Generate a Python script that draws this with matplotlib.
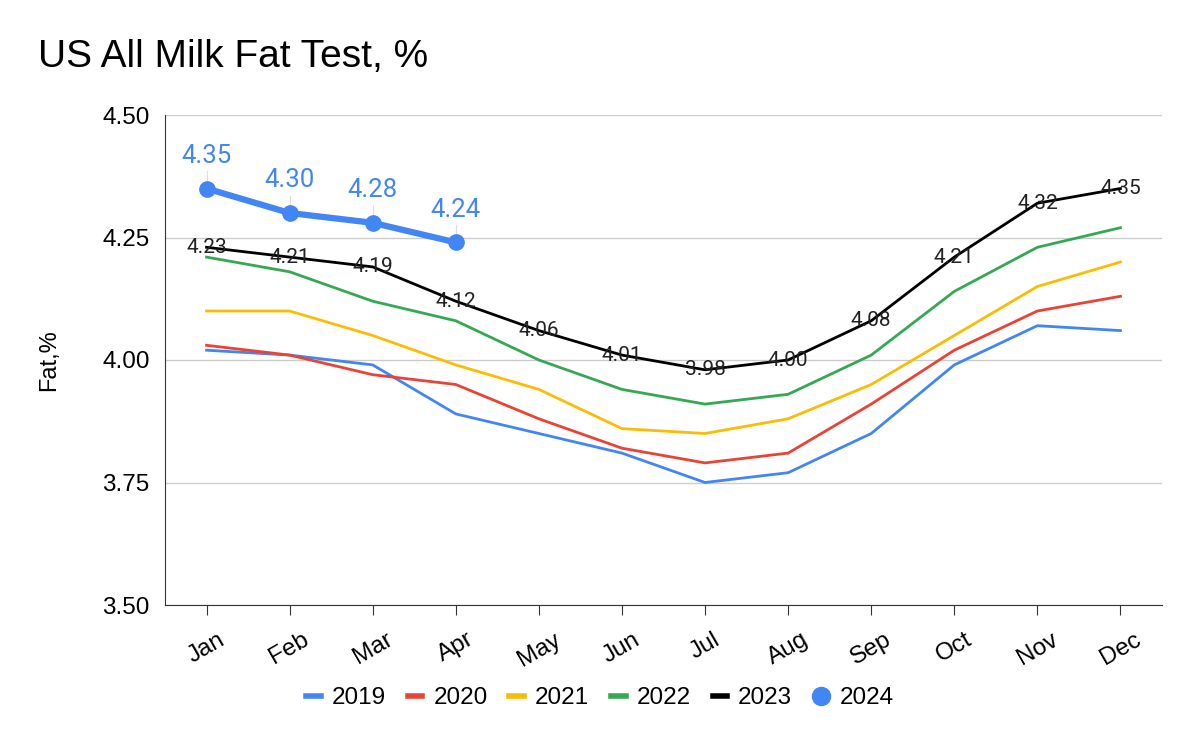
import matplotlib.pyplot as plt

months = ["Jan", "Feb", "Mar", "Apr", "May", "Jun",
          "Jul", "Aug", "Sep", "Oct", "Nov", "Dec"]

fat_2019 = [4.02, 4.01, 3.99, 3.89, 3.85, 3.81, 3.75, 3.77, 3.85, 3.99, 4.07, 4.06]
fat_2020 = [4.03, 4.01, 3.97, 3.95, 3.88, 3.82, 3.79, 3.81, 3.91, 4.02, 4.10, 4.13]
fat_2021 = [4.10, 4.10, 4.05, 3.99, 3.94, 3.86, 3.85, 3.88, 3.95, 4.05, 4.15, 4.20]
fat_2022 = [4.21, 4.18, 4.12, 4.08, 4.00, 3.94, 3.91, 3.93, 4.01, 4.14, 4.23, 4.27]
fat_2023 = [4.23, 4.21, 4.19, 4.12, 4.06, 4.01, 3.98, 4.00, 4.08, 4.21, 4.32, 4.35]
fat_2024 = [4.35, 4.30, 4.28, 4.24]

y_ticks = [3.50, 3.75, 4.00, 4.25, 4.50]

plt.rcParams['font.family'] = ['Liberation Sans', 'DejaVu Sans']

fig = plt.figure(figsize=(12, 7.51), dpi=100)
ax = fig.add_axes([165 / 1200, 1 - 605 / 751, 997 / 1200, 490 / 751])

x = list(range(len(months)))
ax.plot(x, fat_2019, color="#4285f4", lw=2, label="2019")
ax.plot(x, fat_2020, color="#ea4335", lw=2, label="2020")
ax.plot(x, fat_2021, color="#fbbc04", lw=2, label="2021")
ax.plot(x, fat_2022, color="#34a853", lw=2, label="2022")
ax.plot(x, fat_2023, color="black", lw=2, label="2023", zorder=3)
ax.plot(x[:len(fat_2024)], fat_2024, color="#4285f4", lw=4.5,
        marker="o", ms=11, label="2024", zorder=4)

for xi, v in zip(x, fat_2023):
    ax.text(xi, v, f"{v:.2f}", ha="center", va="center", fontsize=15,
            family=["Roboto", "DejaVu Sans"], color="#222222", zorder=5)

for xi, v in zip(x, fat_2024):
    ax.annotate(f"{v:.2f}", (xi, v), xytext=(0, 15), textcoords="offset points",
                ha="center", va="bottom", fontsize=18.5, color="#4285f4",
                family=["Roboto", "DejaVu Sans"], zorder=5)
    ax.plot([xi, xi], [v + 0.015, v + 0.035], color="#dddddd", lw=0.8, zorder=1)

ax.set_xlim(-0.5, 11.5)
ax.set_ylim(3.5, 4.5)
ax.set_yticks(y_ticks)
ax.set_yticklabels([f"{t:.2f}" for t in y_ticks], fontsize=17.5)
ax.set_xticks(x)
ax.set_xticklabels(months, fontsize=17.5, rotation=30, ha="center")
ax.tick_params(axis="y", length=0, pad=11)
ax.tick_params(axis="x", length=7, color="#333333", pad=10)
ax.grid(axis="y", color="#cccccc", lw=1)
ax.set_axisbelow(True)
for side in ["top", "right"]:
    ax.spines[side].set_visible(False)
ax.spines["left"].set_color("#333333")
ax.spines["bottom"].set_color("#333333")
ax.set_ylabel("Fat,%", fontsize=17, labelpad=30)

fig.text(38 / 1200, 1 - 57 / 751, "US All Milk Fat Test, %", fontsize=28,
         va="center", ha="left")

handles, labels = ax.get_legend_handles_labels()
leg = fig.legend(handles, labels, loc="center", bbox_to_anchor=(0.5, 1 - 698 / 751),
                 ncol=6, frameon=False, fontsize=17.5, handlelength=0.6,
                 handletextpad=0.45, columnspacing=0.9)
for h in leg.legend_handles[:5]:
    h.set_linewidth(4)
leg.legend_handles[5].set_linestyle("none")
leg.legend_handles[5].set_markersize(13)

fig.savefig("out.png", dpi=100)
plt.close(fig)
